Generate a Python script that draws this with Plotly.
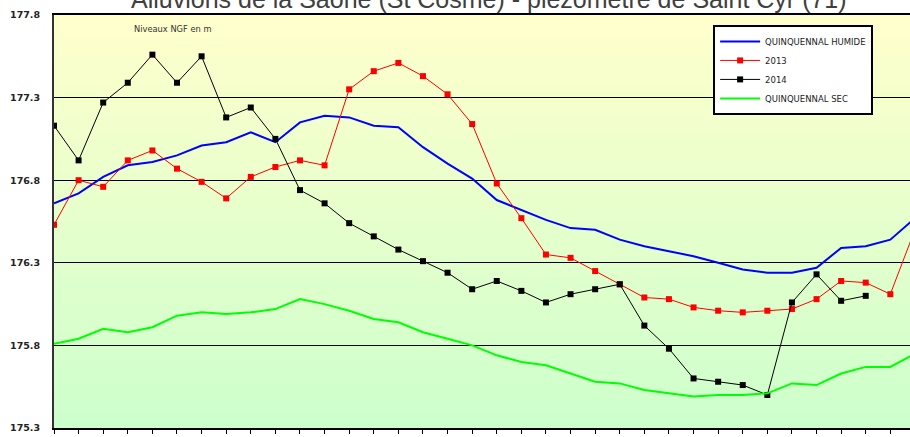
import plotly.graph_objects as go

# ---- data ----
periods = list(range(36))  # 36 ten-day periods; only the first ~34.8 are visible

quinquennal_humide = [176.66, 176.72, 176.82, 176.89, 176.91, 176.95, 177.01, 177.03, 177.09, 177.03,
                      177.15, 177.19, 177.18, 177.13, 177.12, 177.00, 176.90, 176.81, 176.68, 176.62,
                      176.56, 176.51, 176.50, 176.44, 176.40, 176.37, 176.34, 176.30, 176.26, 176.24,
                      176.24, 176.27, 176.39, 176.40, 176.44, 176.57]

y2013 = [176.53, 176.80, 176.76, 176.92, 176.98, 176.87, 176.79, 176.69, 176.82, 176.88,
         176.92, 176.89, 177.35, 177.46, 177.51, 177.43, 177.32, 177.14, 176.78, 176.57,
         176.35, 176.33, 176.25, 176.17, 176.09, 176.08, 176.03, 176.01, 176.00, 176.01,
         176.02, 176.08, 176.19, 176.18, 176.11, 176.50]

y2014 = [177.13, 176.92, 177.27, 177.39, 177.56, 177.39, 177.55, 177.18, 177.24, 177.05,
         176.74, 176.66, 176.54, 176.46, 176.38, 176.31, 176.24, 176.14, 176.19, 176.13,
         176.06, 176.11, 176.14, 176.17, 175.92, 175.78, 175.60, 175.58, 175.56, 175.50,
         176.06, 176.23, 176.07, 176.10]

quinquennal_sec = [175.81, 175.84, 175.90, 175.88, 175.91, 175.98, 176.00, 175.99, 176.00, 176.02,
                   176.08, 176.05, 176.01, 175.96, 175.94, 175.88, 175.84, 175.80, 175.74, 175.70,
                   175.68, 175.63, 175.58, 175.57, 175.53, 175.51, 175.49, 175.50, 175.50, 175.51,
                   175.57, 175.56, 175.63, 175.67, 175.67, 175.75]

y_ticks = [175.3, 175.8, 176.3, 176.8, 177.3, 177.8]
y_tick_labels = ["175.3", "175.8", "176.3", "176.8", "177.3", "177.8"]

title_text = "Alluvions de la Saône (St Cosme) - piézomètre de Saint Cyr (71)"
unit_text = "Niveaux NGF en m"

# ---- figure ----
fig = go.Figure()

fig.add_trace(go.Scatter(x=periods, y=quinquennal_humide, name="QUINQUENNAL HUMIDE",
                         mode="lines", line=dict(color="#0000FF", width=2)))
fig.add_trace(go.Scatter(x=periods, y=y2013, name="2013", mode="lines+markers",
                         line=dict(color="#FF0000", width=1),
                         marker=dict(symbol="square", size=6, color="#FF0000")))
fig.add_trace(go.Scatter(x=periods[:len(y2014)], y=y2014, name="2014", mode="lines+markers",
                         line=dict(color="#000000", width=1),
                         marker=dict(symbol="square", size=6, color="#000000")))
fig.add_trace(go.Scatter(x=periods, y=quinquennal_sec, name="QUINQUENNAL SEC",
                         mode="lines", line=dict(color="#00FF00", width=2)))

# vertical gradient background (light yellow at top -> light green at bottom)
n_strips = 60
top = (255, 255, 204)
bot = (204, 255, 204)
for i in range(n_strips):
    f0 = i / n_strips
    f1 = (i + 1) / n_strips
    t = (f0 + f1) / 2  # 0 at bottom, 1 at top
    r = round(bot[0] + (top[0] - bot[0]) * t)
    g = round(bot[1] + (top[1] - bot[1]) * t)
    b = round(bot[2] + (top[2] - bot[2]) * t)
    fig.add_shape(type="rect", xref="x domain", yref="y domain", x0=0, x1=1, y0=f0, y1=f1 + 0.002,
                  fillcolor=f"rgb({r},{g},{b})", line=dict(width=0), layer="below")

fig.add_annotation(text=title_text, xref="paper", yref="paper", x=0.508, y=1.0,
                   xanchor="center", yanchor="bottom", showarrow=False,
                   font=dict(family="Liberation Sans, Arial", size=25, color="#404040"))
fig.add_annotation(text=unit_text, xref="paper", yref="paper", x=0.091, y=0.967,
                   xanchor="left", yanchor="middle", showarrow=False,
                   font=dict(family="DejaVu Sans", size=8.3, color="#333333"))

fig.update_layout(
    width=910, height=437,
    margin=dict(l=54, r=0, t=15, b=9),
    paper_bgcolor="white",
    plot_bgcolor="rgb(230,255,204)",
    showlegend=True,
    legend=dict(x=0.77, y=0.976, xanchor="left", yanchor="top",
                bgcolor="white", bordercolor="black", borderwidth=2,
                font=dict(family="DejaVu Sans", size=8.5, color="#222222"),
                itemwidth=40, tracegroupgap=0,
                entrywidth=140, entrywidthmode="pixels"),
    xaxis=dict(range=[0, 34.8], tickmode="linear", tick0=0, dtick=1,
               showticklabels=False, ticks="outside", ticklen=4, tickcolor="black",
               tickwidth=1, showgrid=False, zeroline=False,
               showline=True, linecolor="black", linewidth=1.5, mirror=True),
    yaxis=dict(range=[175.3, 177.8], tickmode="array", tickvals=y_ticks, ticktext=y_tick_labels,
               showgrid=True, gridcolor="black", gridwidth=1, zeroline=False,
               showline=True, linecolor="#333333", linewidth=2, ticks="",
               ticklabelstandoff=10,
               tickfont=dict(family="DejaVu Sans", size=9.5, color="#222222", weight="bold")),
)

fig.write_html("out.html", config={"displayModeBar": False},
               post_script="document.body.style.margin='0px';document.body.style.overflow='hidden';")
